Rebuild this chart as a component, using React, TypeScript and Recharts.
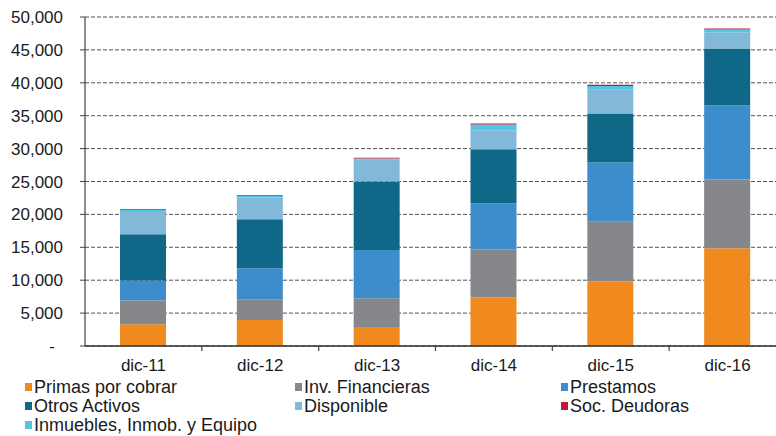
import React from 'react';
import { BarChart, Bar, XAxis, YAxis, CartesianGrid } from 'recharts';

const categories = ['dic-11', 'dic-12', 'dic-13', 'dic-14', 'dic-15', 'dic-16'];
const primas = [3300, 3950, 2900, 7400, 9800, 14850];
const invFinancieras = [3600, 3150, 4350, 7300, 9100, 10450];
const prestamos = [3050, 4700, 7350, 7000, 9000, 11300];
const otrosActivos = [7050, 7450, 10400, 8200, 7450, 8600];
const disponible = [3500, 3350, 3300, 2900, 3600, 2450];
const inmuebles = [150, 200, 200, 850, 550, 450];
const socDeudoras = [150, 100, 100, 150, 200, 150];
const yTicks = [0, 5000, 10000, 15000, 20000, 25000, 30000, 35000, 40000, 45000, 50000];

const seriesNames = {
  primas: 'Primas por cobrar',
  inv: 'Inv. Financieras',
  prest: 'Prestamos',
  otros: 'Otros Activos',
  disp: 'Disponible',
  soc: 'Soc. Deudoras',
  inm: 'Inmuebles, Inmob. y Equipo',
};

const colors = {
  primas: '#F08A1E',
  inv: '#85878A',
  prest: '#3D8CCC',
  otros: '#0F6888',
  disp: '#82B8D8',
  soc: '#C8143A',
  inm: '#52C4E6',
};

const data = categories.map((c, i) => ({
  cat: c,
  primas: primas[i],
  inv: invFinancieras[i],
  prest: prestamos[i],
  otros: otrosActivos[i],
  disp: disponible[i],
  inm: inmuebles[i],
  soc: socDeudoras[i],
}));

const FONT = '"Liberation Sans", Arial, sans-serif';
const FS = 17;
const LFS = 18;
const CHART_W = 800;
const Y_W = 85;
const M_RIGHT = 14;
const BAND = (CHART_W - Y_W - M_RIGHT) / categories.length;

const YTick = (props: any) => {
  const { x, y, payload } = props;
  const v = payload.value as number;
  const label = v === 0 ? '-' : v.toLocaleString('en-US');
  return (
    <text x={v === 0 ? x - 8 : x} y={y} dy="0.355em" textAnchor="end" fontFamily={FONT} fontSize={FS} fill="#1a1a1a">
      {label}
    </text>
  );
};

const XTick = (props: any) => {
  const { x, y, payload, index } = props;
  const axisY = y - 13;
  return (
    <g>
      {index < categories.length - 1 && (
        <line x1={x + BAND / 2} x2={x + BAND / 2} y1={axisY} y2={axisY + 5} stroke="#444" strokeWidth={1.2} />
      )}
      <text x={x} y={y} dy="0.71em" textAnchor="middle" fontFamily={FONT} fontSize={FS} fill="#1a1a1a">
        {payload.value}
      </text>
    </g>
  );
};

const legendItems: { key: keyof typeof colors; left: number; row: number }[] = [
  { key: 'primas', left: 25, row: 0 },
  { key: 'inv', left: 295, row: 0 },
  { key: 'prest', left: 561, row: 0 },
  { key: 'otros', left: 25, row: 1 },
  { key: 'disp', left: 295, row: 1 },
  { key: 'soc', left: 561, row: 1 },
  { key: 'inm', left: 25, row: 2 },
];

export default function App() {
  return (
    <div style={{ position: 'absolute', left: 0, top: 0, width: 776, height: 436, overflow: 'hidden', background: '#fff' }}>
      <BarChart
        width={CHART_W}
        height={436}
        data={data}
        margin={{ top: 17, right: M_RIGHT, left: 0, bottom: 60 }}
        barSize={46}
      >
        <CartesianGrid vertical={false} stroke="#555" strokeDasharray="4 2" strokeWidth={1} />
        <XAxis
          dataKey="cat"
          height={30}
          tick={<XTick />}
          tickLine={false}
          tickSize={5}
          tickMargin={8}
          axisLine={{ stroke: '#333', strokeWidth: 1.5 }}
          interval={0}
        />
        <YAxis
          width={Y_W}
          domain={[0, 50000]}
          ticks={yTicks}
          tick={<YTick />}
          tickSize={5}
          tickMargin={17}
          tickLine={{ stroke: '#444' }}
          axisLine={{ stroke: '#444', strokeWidth: 1.2 }}
          interval={0}
        />
        <Bar dataKey="primas" stackId="a" fill={colors.primas} isAnimationActive={false} />
        <Bar dataKey="inv" stackId="a" fill={colors.inv} isAnimationActive={false} />
        <Bar dataKey="prest" stackId="a" fill={colors.prest} isAnimationActive={false} />
        <Bar dataKey="otros" stackId="a" fill={colors.otros} isAnimationActive={false} />
        <Bar dataKey="disp" stackId="a" fill={colors.disp} isAnimationActive={false} />
        <Bar dataKey="inm" stackId="a" fill={colors.inm} isAnimationActive={false} />
        <Bar dataKey="soc" stackId="a" fill={colors.soc} isAnimationActive={false} />
      </BarChart>
      {legendItems.map((it) => (
        <div
          key={it.key}
          style={{
            position: 'absolute',
            left: it.left,
            top: 377 + it.row * 19,
            height: 20,
            display: 'flex',
            alignItems: 'center',
            fontFamily: FONT,
            fontSize: LFS,
            color: '#1a1a1a',
            whiteSpace: 'nowrap',
          }}
        >
          <span style={{ display: 'inline-block', width: 7, height: 8, background: colors[it.key], marginRight: 2 }} />
          <span>{seriesNames[it.key]}</span>
        </div>
      ))}
    </div>
  );
}
